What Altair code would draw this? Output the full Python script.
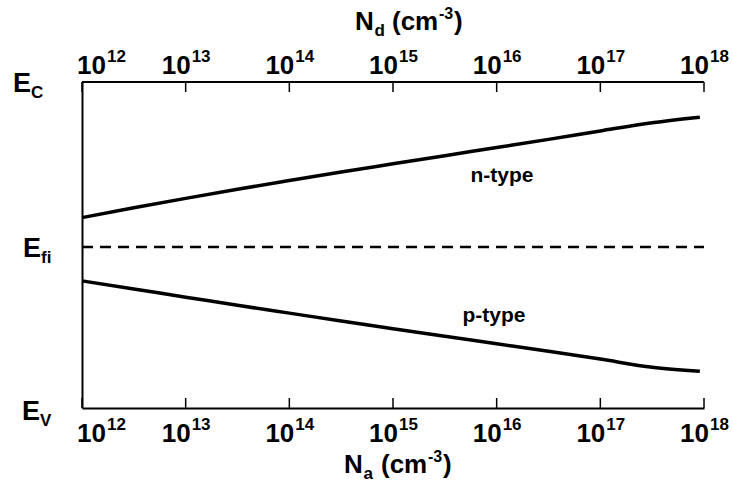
import altair as alt
import pandas as pd

# ---- data ----
n_exp = [12, 12.5, 13, 13.5, 14, 14.5, 15, 15.5, 16, 16.5, 17, 17.5, 17.96]
n_level = [0.584, 0.614, 0.643, 0.671, 0.698, 0.724, 0.749, 0.774, 0.799, 0.824, 0.850, 0.875, 0.892]
p_exp = [12, 12.5, 13, 13.5, 14, 14.5, 15, 15.5, 16, 16.5, 17, 17.5, 17.96]
p_level = [0.390, 0.365, 0.340, 0.315, 0.291, 0.267, 0.243, 0.220, 0.197, 0.174, 0.150, 0.125, 0.113]
efi_level = [0.494]
decades = [12, 13, 14, 15, 16, 17, 18]
level_subs = ["C", "fi", "V"]
level_values = [1.0, 0.494, 0.0]

W, H = 622, 326
FONT = "Liberation Sans"

lines_df = pd.DataFrame({
    "N": [10 ** e for e in n_exp] + [10 ** e for e in p_exp],
    "E": n_level + p_level,
    "type": ["n"] * len(n_exp) + ["p"] * len(p_exp),
})
dec_df = pd.DataFrame({"N": [10.0 ** d for d in decades],
                       "base": ["10"] * len(decades),
                       "exp": [str(d) for d in decades]})
efi_df = pd.DataFrame({"E": efi_level})
lev_df = pd.DataFrame({"E": level_values, "sub": level_subs, "main": ["E"] * 3})

ax = alt.Axis(title=None, labels=False, ticks=False, grid=False, domain=True,
              domainColor="black", domainWidth=2)
x = alt.X("N:Q", scale=alt.Scale(type="log", domain=[1e12, 1e18]), axis=ax)
y = alt.Y("E:Q", scale=alt.Scale(domain=[0, 1]), axis=ax)

layers = []

# curves
layers.append(alt.Chart(lines_df).mark_line(color="black", strokeWidth=3.5, interpolate="monotone")
              .encode(x=x, y=y, detail="type:N"))

# intrinsic level dashed line
layers.append(alt.Chart(efi_df).mark_rule(color="black", strokeWidth=2.5, strokeDash=[11, 7])
              .encode(y=y, x=alt.value(0), x2=alt.value(W)))

# top frame line
layers.append(alt.Chart(efi_df).mark_rule(color="black", strokeWidth=2)
              .encode(x=alt.value(0), x2=alt.value(W), y=alt.value(0)))

# inward ticks top and bottom
layers.append(alt.Chart(dec_df).mark_rule(color="black", strokeWidth=1.5)
              .encode(x=x, y=alt.value(0), y2=alt.value(10)))
layers.append(alt.Chart(dec_df).mark_rule(color="black", strokeWidth=1.5)
              .encode(x=x, y=alt.value(H), y2=alt.value(H - 10)))


def tick_labels(ybase, shift, flt):
    c = alt.Chart(dec_df).transform_filter(flt)
    a = c.mark_text(font=FONT, fontSize=26, fontWeight="bold", align="right",
                    baseline="alphabetic", dx=5 + shift, color="black").encode(
        x=x, y=alt.value(ybase), text="base:N")
    b = c.mark_text(font=FONT, fontSize=17, fontWeight="bold", align="left",
                    baseline="alphabetic", dx=6 + shift, color="black").encode(
        x=x, y=alt.value(ybase - 12), text="exp:N")
    return [a, b]


for yb in (-8, H + 34):
    layers += tick_labels(yb, 19, "datum.N < 1e12 * 1.5")
    layers += tick_labels(yb, 0, "datum.N > 1e12 * 1.5")


def title(left, base, sub):
    parts = [
        ("N", left, base, 26),
        (sub, left + 19.5, base + 6, 17),
        ("(cm", left + 37, base, 26),
        ("-3", left + 84, base - 11, 16),
        (")", left + 99, base, 26),
    ]
    out = []
    for txt, xx, yy, fs in parts:
        out.append(alt.Chart(efi_df).mark_text(font=FONT, fontSize=fs, fontWeight="bold",
                                               align="left", baseline="alphabetic",
                                               color="black", text=txt)
                   .encode(x=alt.value(xx), y=alt.value(yy)))
    return out


layers += title(273, -52, "d")
layers += title(262, H + 65, "a")

# energy level labels
lev_style = {"C": (-69, 10), "fi": (-59, 10), "V": (-60, 12)}
for s, (xx, dy) in lev_style.items():
    c = alt.Chart(lev_df).transform_filter(alt.datum.sub == s)
    layers.append(c.mark_text(font=FONT, fontSize=27, fontWeight="bold", align="left",
                              baseline="alphabetic", dy=dy, color="black")
                  .encode(x=alt.value(xx), y=y, text="main:N"))
    layers.append(c.mark_text(font=FONT, fontSize=17, fontWeight="bold", align="left",
                              baseline="alphabetic", dy=dy + 6, color="black")
                  .encode(x=alt.value(xx + 18), y=y, text="sub:N"))

# curve annotations
layers.append(alt.Chart(efi_df).mark_text(font=FONT, fontSize=21, fontWeight="bold",
                                          align="center", baseline="alphabetic",
                                          color="black", text="n-type")
              .encode(x=alt.value(420), y=alt.value(100)))
layers.append(alt.Chart(efi_df).mark_text(font=FONT, fontSize=21, fontWeight="bold",
                                          align="center", baseline="alphabetic",
                                          color="black", text="p-type")
              .encode(x=alt.value(412), y=alt.value(240)))

chart = alt.layer(*layers).properties(
    width=W, height=H,
    autosize=alt.AutoSizeParams(type="none"),
    padding={"left": 82, "top": 82, "right": 28, "bottom": 78},
    background="white",
).configure_view(stroke=None)

chart.save("out.html", embed_options={"renderer": "svg", "actions": False})
